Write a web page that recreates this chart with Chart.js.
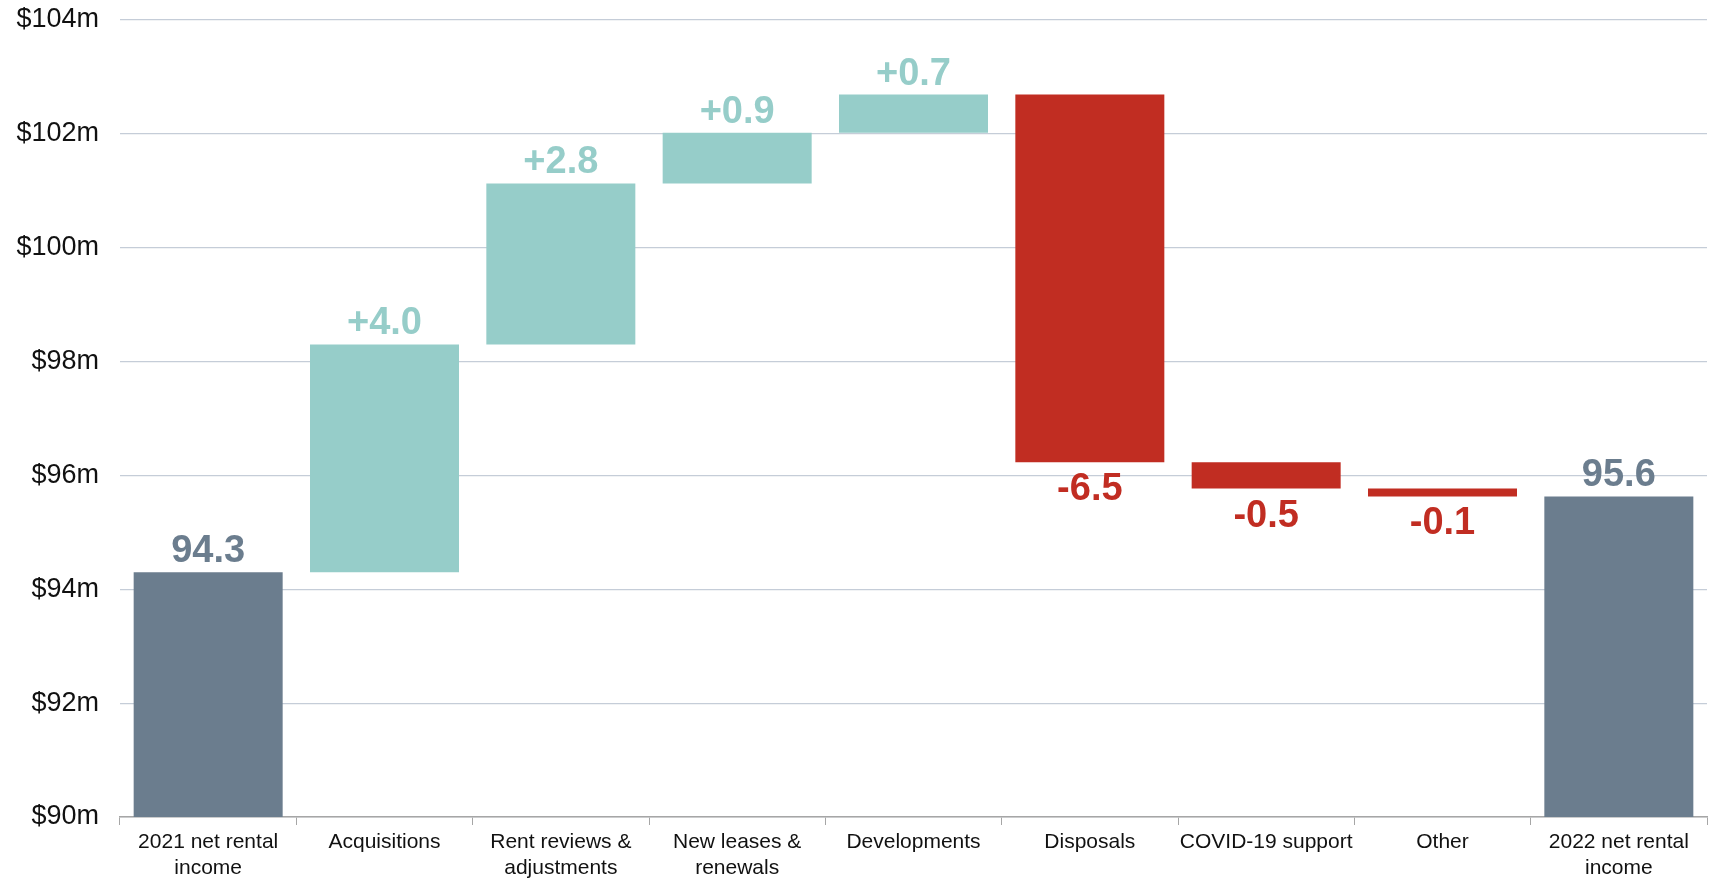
<!DOCTYPE html>
<html>
<head>
<meta charset="utf-8">
<script src="https://cdn.jsdelivr.net/npm/chart.js@4/dist/chart.umd.min.js"></script>
<style>
  html, body { margin: 0; padding: 0; background: #fff; }
  #wrap { width: 1716px; height: 878px; }
</style>
</head>
<body>
<div id="wrap"><canvas id="bridge"></canvas></div>
<script>
// Categories along the bottom
const categories = [
  ['2021 net rental', 'income'], 'Acquisitions', ['Rent reviews &', 'adjustments'],
  ['New leases &', 'renewals'], 'Developments', 'Disposals', 'COVID-19 support',
  'Other', ['2022 net rental', 'income']
]

// Bottom and top of each floating bar ($m)
const barLow  = [90, 94.3, 98.3, 101.13, 102.02, 96.23, 95.77, 95.63, 90]
const barHigh = [94.3, 98.3, 101.13, 102.02, 102.69, 102.69, 96.23, 95.77, 95.63]

// Text shown by each bar and what kind of step it is
const barLabels = ['94.3', '+4.0', '+2.8', '+0.9', '+0.7', '-6.5', '-0.5', '-0.1', '95.6']
const barKinds  = ['total', 'up', 'up', 'up', 'up', 'down', 'down', 'down', 'total']

// Y axis ticks
const yTicks = [90, 92, 94, 96, 98, 100, 102, 104]

const kindColors = { total: '#6b7d8e', up: '#96cdc9', down: '#c12d22' }

// Draw the value labels above / below the bars
const barValueLabels = {
  id: 'barValueLabels',
  afterDatasetsDraw(chart) {
    let ctx = chart.ctx
    let meta = chart.getDatasetMeta(0)
    ctx.save()
    ctx.font = "bold 38px 'Liberation Sans Narrow', 'Liberation Sans', Arial, sans-serif"
    ctx.textAlign = 'center'
    ctx.textBaseline = 'alphabetic'
    meta.data.forEach((bar, i) => {
      let top = Math.min(bar.y, bar.base)
      let bottom = Math.max(bar.y, bar.base)
      ctx.fillStyle = kindColors[barKinds[i]]
      if (barKinds[i] == 'down') {
        ctx.fillText(barLabels[i], bar.x, bottom + 38)
      } else {
        ctx.fillText(barLabels[i], bar.x, top - 10)
      }
    })
    ctx.restore()
  }
}

let config = {
  type: 'bar',
  data: {
    labels: categories,
    datasets: [{
      data: barLow.map((low, i) => [low, barHigh[i]]),
      backgroundColor: barKinds.map(k => kindColors[k]),
      borderWidth: 0,
      barPercentage: 0.845,
      categoryPercentage: 1
    }]
  },
  options: {
    responsive: true,
    maintainAspectRatio: false,
    animation: false,
    layout: { padding: { top: 20, right: 9, left: 0, bottom: 0 } },
    plugins: {
      legend: { display: false },
      tooltip: { enabled: false }
    },
    scales: {
      x: {
        offset: true,
        grid: {
          offset: true,
          drawOnChartArea: false,
          drawTicks: true,
          tickLength: 8,
          color: '#a6a6a6'
        },
        border: { display: true, color: '#a6a6a6', width: 1.5 },
        ticks: {
          color: '#111',
          padding: 5,
          maxRotation: 0,
          autoSkip: false,
          font: { family: "'Liberation Sans', Arial, sans-serif", size: 21, lineHeight: 1.2 }
        },
        afterFit(scale) { scale.height = 61 }
      },
      y: {
        min: 90,
        max: 104,
        afterBuildTicks(scale) { scale.ticks = yTicks.map(v => ({ value: v })) },
        grid: { color: '#c5cdd8', lineWidth: 1.2, drawTicks: false },
        border: { display: false },
        ticks: {
          color: '#111',
          padding: 21,
          font: { family: "'Liberation Sans', Arial, sans-serif", size: 27 },
          callback: v => '$' + v + 'm'
        },
        afterFit(scale) {
          scale.width = 120
          // let the top label hang over the padding instead of pushing the plot down
          scale.paddingTop = 0
          scale.paddingBottom = 0
        }
      }
    }
  },
  plugins: [barValueLabels]
}

new Chart('bridge', config)
</script>
</body>
</html>
